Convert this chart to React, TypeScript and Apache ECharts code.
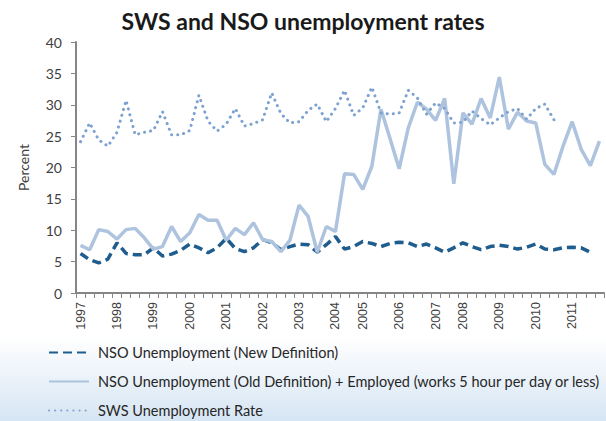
import React, { useEffect, useRef } from "react";
import * as echarts from "echarts";

const yearLabels = ["1997", "1998", "1999", "2000", "2001", "2002", "2003", "2004", "2005", "2006", "2007", "2008", "2009", "2010", "2011"];
const yearStartIdx = [0, 4, 8, 12, 16, 20, 24, 28, 31, 35, 39, 42, 46, 50, 54];
const categoryCount = 58;

const seriesNames = [
  "NSO Unemployment (New Definition)",
  "NSO Unemployment (Old Definition) + Employed (works 5 hour per day or less)",
  "SWS Unemployment Rate",
];

const nsoNewDef = [
  6.3, 5.3, 4.8, 5.4, 8.0, 6.3, 6.1, 6.1, 7.2, 5.9,
  6.2, 6.8, 7.8, 7.2, 6.4, 7.2, 8.7, 7.1, 6.6, 7.2,
  8.5, 8.0, 6.9, 7.4, 7.8, 7.7, 6.5, 7.7, 9.0, 7.0,
  7.4, 8.2, 7.9, 7.4, 7.9, 8.1, 8.0, 7.4, 7.8, 7.2,
  6.5, 7.2, 8.0, 7.4, 6.9, 7.4, 7.6, 7.4, 7.0, 7.3,
  7.8, 7.0, 6.9, 7.2, 7.3, 7.2, 6.5,
];

const nsoOldDefPlus = [
  7.6, 6.9, 10.1, 9.8, 8.6, 10.1, 10.3, 8.8, 7.0, 7.4,
  10.6, 8.2, 9.6, 12.5, 11.6, 11.6, 8.4, 10.3, 9.3, 11.2,
  8.5, 8.2, 6.6, 8.4, 14.0, 12.2, 6.5, 10.6, 9.8, 19.0,
  18.9, 16.5, 20.2, 29.3, 24.6, 19.8, 26.3, 30.4, 29.3, 27.5,
  31.0, 17.4, 28.7, 26.9, 31.0, 27.9, 34.4, 26.1, 28.8, 27.4,
  27.1, 20.5, 18.9, 23.4, 27.3, 22.9, 20.3, 24.2,
];

const swsRate = [
  24.1, 27.1, 24.4, 23.4, 25.6, 30.7, 25.2, 25.6, 25.9, 28.9,
  25.2, 25.2, 25.9, 31.5, 27.4, 25.8, 26.9, 29.4, 26.6, 27.0,
  27.6, 31.9, 28.6, 27.1, 27.3, 29.1, 30.1, 27.3, 29.4, 32.3,
  28.3, 29.5, 32.8, 28.7, 28.5, 28.7, 32.3, 31.1, 28.5, 30.3,
  29.4, 27.1, 27.2, 29.0, 27.8, 26.8, 27.9, 28.9, 29.4, 27.7,
  29.4, 30.1, 27.6,
];

const yTicks = { min: 0, max: 40, interval: 5 };

function buildCategories(): string[] {
  const cats: string[] = [];
  for (let i = 0; i < categoryCount; i++) cats.push("");
  yearStartIdx.forEach((idx, k) => {
    cats[idx] = yearLabels[k];
  });
  return cats;
}

export default function App() {
  const ref = useRef<HTMLDivElement>(null);

  useEffect(() => {
    if (!ref.current) return;
    const chart = echarts.init(ref.current, null, { renderer: "svg" });
    const categories = buildCategories();
    const axisGray = "#868686";
    const textGray = "#404040";

    chart.setOption({
      animation: false,
      backgroundColor: "transparent",
      title: {
        text: "SWS and NSO unemployment rates",
        left: "center",
        top: 4,
        textStyle: {
          fontFamily: "Lato",
          fontWeight: "bold",
          fontSize: 23,
          color: "#1a1a1a",
        },
      },
      grid: { left: 76, right: 2, top: 42, bottom: 128, containLabel: false },
      legend: {
        orient: "vertical",
        left: 48,
        top: 345,
        height: 80,
        padding: 0,
        itemWidth: 40,
        itemHeight: 14,
        itemGap: 14,
        itemStyle: { opacity: 0 },
        data: seriesNames,
        textStyle: {
          fontFamily: "Lato",
          fontSize: 14.5,
          color: "#262626",
          padding: [0, 0, 0, 4],
        },
      },
      xAxis: {
        type: "category",
        data: categories,
        boundaryGap: true,
        axisLine: { lineStyle: { color: axisGray, width: 2 } },
        axisTick: { show: true, interval: 0, length: 5, lineStyle: { color: axisGray } },
        axisLabel: {
          interval: 0,
          rotate: 90,
          fontFamily: "Liberation Sans",
          fontSize: 12.5,
          color: textGray,
          margin: 9,
        },
        splitLine: { show: false },
      },
      yAxis: {
        type: "value",
        min: yTicks.min,
        max: yTicks.max,
        interval: yTicks.interval,
        name: "Percent",
        nameLocation: "middle",
        nameGap: 46,
        nameTextStyle: { fontFamily: "Lato", fontSize: 14, color: textGray },
        axisLine: { show: true, lineStyle: { color: axisGray, width: 2 } },
        axisTick: { show: true, length: 5, lineStyle: { color: axisGray } },
        axisLabel: { fontFamily: "Lato", fontSize: 14, color: textGray, margin: 14 },
        splitLine: { show: false },
      },
      series: [
        {
          name: seriesNames[0],
          type: "line",
          data: nsoNewDef,
          symbol: "none",
          lineStyle: { color: "#1f5d8e", width: 3.5, type: [9, 5] },
          itemStyle: { color: "#1f5d8e" },
        },
        {
          name: seriesNames[1],
          type: "line",
          data: nsoOldDefPlus,
          symbol: "none",
          lineStyle: { color: "#aec3de", width: 3.5, type: "solid" },
          itemStyle: { color: "#aec3de" },
        },
        {
          name: seriesNames[2],
          type: "line",
          data: swsRate,
          symbol: "none",
          lineStyle: { color: "#7da2d0", width: 3, type: [0.1, 6], cap: "round" },
          itemStyle: { color: "#7da2d0" },
        },
      ],
    });

    return () => chart.dispose();
  }, []);

  return (
    <div
      ref={ref}
      style={{
        position: "absolute",
        left: 0,
        top: 0,
        width: 606,
        height: 421,
        background: "linear-gradient(to bottom, #ffffff 0%, #ffffff 80%, #d6e5f3 100%)",
      }}
    />
  );
}
